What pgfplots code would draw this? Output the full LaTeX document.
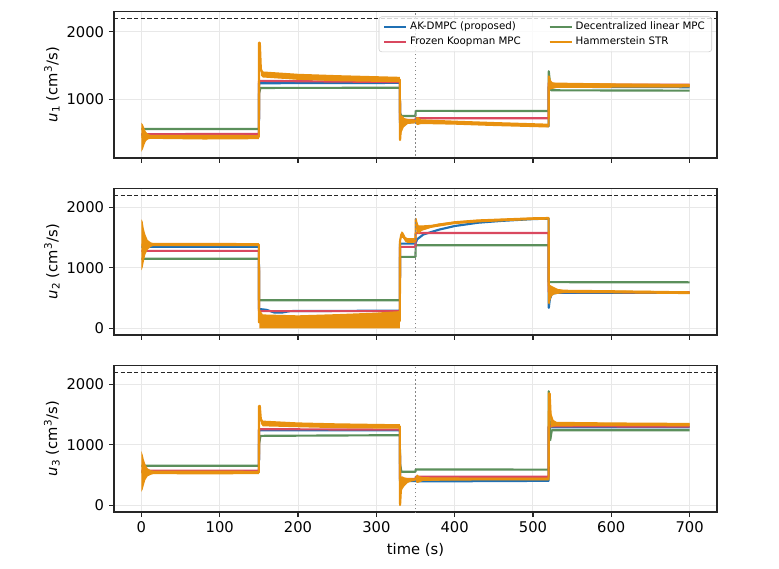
\documentclass[border=0pt]{standalone}
\usepackage{pgfplots}
\pgfplotsset{compat=1.18}
\usepackage{fontspec}
\setmainfont{DejaVu Sans}
\definecolor{cB}{HTML}{1F70B4}
\definecolor{cR}{HTML}{D9485F}
\definecolor{cG}{HTML}{5B8F5B}
\definecolor{cO}{HTML}{E8910F}
\pgfplotsset{
  myax/.style={
    scale only axis, width=434.16pt, height=105.48pt,
    xmin=-35, xmax=735, ymin=-110, ymax=2310,
    xtick={0,100,...,700}, ytick={0,1000,2000},
    tick align=outside, xtick pos=bottom, ytick pos=left,
    major tick length=3.6pt,
    every tick/.style={black!85, line width=0.8pt},
    grid=major, major grid style={color=black!9, line width=0.7pt},
    axis line style={line width=0.8pt, black!85},
    tick label style={font=\fontsize{10.6}{12}\selectfont},
    /pgf/number format/assume math mode=true,
    /pgf/number format/1000 sep={},
    label style={font=\fontsize{10.6}{12}\selectfont},
    ylabel style={at={(axis description cs:-0.103,0.5)}, anchor=center},
    xlabel style={at={(axis description cs:0.5,0)}, anchor=center, yshift=-27pt},
    every axis plot/.append style={line join=round},
  },
  ln/.style={#1, line width=1.55pt, forget plot},
  bd/.style={fill=cO, draw=none, forget plot},
  hl/.style={black!85, dash pattern=on 3.2pt off 1.6pt, line width=0.8pt, forget plot},
  vl/.style={black!48, dash pattern=on 1.1pt off 1.8pt, line width=1.1pt, forget plot},
}
\begin{document}
\begin{tikzpicture}
\useasboundingbox (0,0) rectangle (560.88pt,408.96pt);
% ---------------- u1 ----------------
\begin{axis}[myax, at={(82.08pt,295.2pt)}, anchor=south west,
  ymin=126, ymax=2299, xticklabels={},
  ylabel={\textit{u}\textsubscript{1} (cm\textsuperscript{3}/s)},
  legend style={at={(0.9917,0.966)}, anchor=north east, draw=black!20, fill=white,
    fill opacity=0.8, text opacity=1, rounded corners=2pt,
    font=\fontsize{7.4}{9}\selectfont, inner xsep=3pt, inner ysep=1.5pt,
    /tikz/every even column/.append style={column sep=18pt}},
  legend columns=2, legend cell align=left,
  legend image code/.code={\draw[#1, line width=1.5pt] (0pt,0pt) -- (16pt,0pt);}]
\addlegendimage{cB}\addlegendentry{AK-DMPC (proposed)}
\addlegendimage{cG}\addlegendentry{Decentralized linear MPC}
\addlegendimage{cR}\addlegendentry{Frozen Koopman MPC}
\addlegendimage{cO}\addlegendentry{Hammerstein STR}
\addplot[ln=cB] coordinates {(0,470) (150,467) (150.2,1235) (330,1240) (330.2,650) (350,660) (355,665) (400,648) (450,630) (520,600) (520.2,1182) (700,1176)};
\addplot[ln=cG] coordinates {(0,557) (150,557) (150.2,1080) (152,1165) (330,1168) (330.2,796) (332,750) (350,750) (350.2,825) (520,822) (520.2,1412) (521.5,1250) (523,1130) (700,1125)};
\addplot[ln=cR] coordinates {(0,480) (150,482) (150.2,1270) (330,1252) (330.2,690) (350,690) (350.2,716) (520,716) (520.2,1240) (522,1215) (700,1213)};
\addplot[ln=cO] coordinates {(0,440) (150,440) (150.2,1836) (151.2,1836) (152.5,1450) (155,1365) (200,1330) (250,1310) (330,1290) (330.3,392) (331.5,600) (333,740) (336,650) (340,680) (350,670) (352,700) (355,665) (400,650) (450,630) (520,606) (520.3,1337) (522,1230) (700,1198)};
\addplot[bd] coordinates {(0,650) (2,620) (4,560) (6,510) (9,480) (12,468) (80,470) (150,466) (150,405) (80,400) (12,410) (9,405) (6,380) (4,330) (2,260) (0,220)};
\addplot[bd] coordinates {(152.5,1470) (155,1410) (200,1375) (250,1355) (330,1330) (330,1250) (250,1265) (200,1285) (155,1320) (152.5,1350)};
\addplot[bd] coordinates {(330.5,700) (332,760) (335,720) (340,705) (350,695) (350,640) (340,630) (335,580) (332,500) (330.5,420)};
\addplot[bd] coordinates {(350,720) (353,735) (357,700) (400,680) (450,660) (520,635) (520,578) (450,600) (400,620) (357,630) (353,615) (350,630)};
\addplot[bd] coordinates {(520.5,1337) (522,1290) (525,1250) (530,1235) (700,1225) (700,1172) (530,1165) (525,1150) (522,1140) (520.5,1160)};
\addplot[hl] coordinates {(-35,2200) (735,2200)};
\addplot[vl] coordinates {(350,-200) (350,2500)};
\end{axis}
% ---------------- u2 ----------------
\begin{axis}[myax, at={(82.08pt,167.76pt)}, anchor=south west,
  xticklabels={},
  ylabel={\textit{u}\textsubscript{2} (cm\textsuperscript{3}/s)}]
\addplot[ln=cB] coordinates {(0,1345) (150,1345) (150.2,320) (160,305) (170,260) (180,262) (190,285) (330,292) (330.2,1400) (350,1400) (352,1470) (360,1550) (380,1630) (400,1690) (430,1745) (460,1775) (500,1805) (520,1812) (520.2,338) (521.5,480) (524,570) (530,585) (700,585)};
\addplot[ln=cG] coordinates {(0,1150) (150,1150) (150.2,463) (330,463) (330.2,1181) (350,1181) (350.2,1373) (520,1373) (520.2,763) (700,760)};
\addplot[ln=cR] coordinates {(0,1280) (150,1280) (150.2,285) (330,285) (330.2,1345) (350,1345) (350.2,1574) (520,1574) (520.2,600) (700,595)};
\addplot[ln=cO] coordinates {(0,1380) (150,1384) (150.2,100) (330,120) (330.3,1450) (332,1555) (334,1545) (337,1475) (340,1450) (350,1452) (350.3,1808) (351.5,1700) (354,1620) (360,1650) (380,1715) (400,1745) (430,1775) (460,1790) (500,1812) (520,1818) (520.3,420) (521,700) (523,560) (526,650) (530,600) (560,612) (600,605) (650,600) (700,588)};
\addplot[bd] coordinates {(0,1800) (1.5,1770) (3,1650) (5,1550) (8,1460) (12,1420) (15,1410) (80,1412) (150,1408) (150,1360) (80,1358) (15,1360) (12,1345) (8,1300) (5,1220) (3,1100) (1.5,1000) (0,960)};
\addplot[bd] coordinates {(150.5,320) (155,230) (200,215) (250,235) (300,260) (330,285) (330,0) (150.5,0)};
\addplot[bd] coordinates {(330.5,1480) (332,1600) (334,1590) (337,1510) (340,1490) (350,1490) (350,1415) (340,1410) (337,1430) (334,1490) (332,1500) (330.5,1420)};
\addplot[bd] coordinates {(350.3,1808) (351.5,1780) (354,1700) (358,1700) (370,1710) (400,1770) (430,1800) (460,1815) (500,1835) (520,1840) (520,1795) (500,1790) (460,1768) (430,1750) (400,1722) (370,1660) (358,1610) (354,1560) (351.5,1600) (350.3,1700)};
\addplot[bd] coordinates {(520.5,480) (521.5,720) (524,700) (527,680) (532,650) (540,638) (600,630) (700,612) (700,565) (600,580) (540,585) (532,570) (527,560) (524,530) (521.5,440) (520.5,380)};
\addplot[hl] coordinates {(-35,2200) (735,2200)};
\addplot[vl] coordinates {(350,-200) (350,2500)};
\end{axis}
% ---------------- u3 ----------------
\begin{axis}[myax, at={(82.08pt,40.32pt)}, anchor=south west,
  xlabel={time (s)},
  ylabel={\textit{u}\textsubscript{3} (cm\textsuperscript{3}/s)}]
\addplot[ln=cB] coordinates {(0,554) (150,554) (150.2,1240) (330,1240) (330.2,401) (350,401) (352,395) (520,405) (520.2,1290) (700,1290)};
\addplot[ln=cG] coordinates {(0,653) (150,653) (150.2,1010) (152,1148) (330,1159) (330.2,692) (332,554) (350,554) (350.2,593) (520,590) (520.2,1885) (521.3,1400) (522,1077) (524,1241) (700,1241)};
\addplot[ln=cR] coordinates {(0,571) (150,571) (150.2,1258) (330,1250) (330.2,434) (350,434) (350.2,472) (520,472) (520.2,1307) (700,1300)};
\addplot[ln=cO] coordinates {(0,545) (150,544) (150.2,1643) (151.2,1643) (152.5,1420) (155,1355) (200,1330) (250,1315) (330,1305) (330.3,5) (331.5,300) (333,420) (336,380) (340,420) (350,430) (352,460) (355,420) (400,434) (520,434) (520.3,1850) (521.3,1850) (522.5,1500) (526,1360) (600,1340) (700,1335)};
\addplot[bd] coordinates {(0,895) (1.5,840) (3,760) (5,680) (8,610) (12,580) (15,575) (80,575) (150,570) (150,515) (80,512) (15,515) (12,505) (8,480) (5,420) (3,330) (1.5,260) (0,225)};
\addplot[bd] coordinates {(152.5,1470) (155,1400) (200,1370) (250,1355) (330,1340) (330,1265) (250,1275) (200,1290) (155,1305) (152.5,1350)};
\addplot[bd] coordinates {(330.5,470) (333,480) (336,460) (340,450) (350,445) (350,405) (345,395) (340,370) (336,320) (333,260) (330.5,150)};
\addplot[bd] coordinates {(350,470) (352,510) (355,480) (360,465) (400,460) (520,458) (520,412) (400,410) (360,405) (355,380) (352,370) (350,400)};
\addplot[bd] coordinates {(521.3,1850) (522.5,1560) (525,1420) (530,1380) (600,1370) (700,1362) (700,1305) (600,1310) (530,1305) (525,1300) (522.5,1280)};
\addplot[hl] coordinates {(-35,2200) (735,2200)};
\addplot[vl] coordinates {(350,-200) (350,2500)};
\end{axis}
\end{tikzpicture}
\end{document}
